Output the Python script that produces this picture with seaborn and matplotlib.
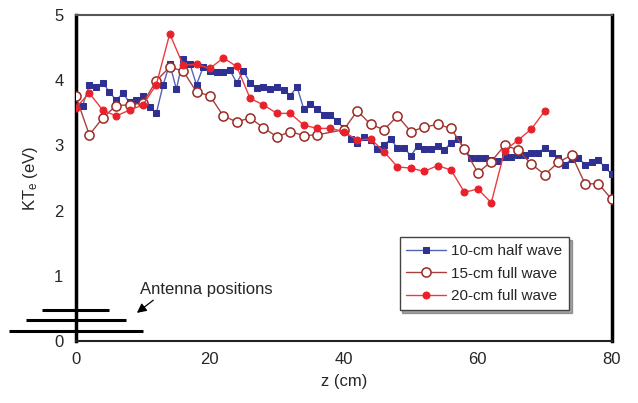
import numpy as np
import pandas as pd
import matplotlib
matplotlib.use("Agg")
import matplotlib.pyplot as plt
import seaborn as sns

# ---- data ----
z_half = list(range(0, 81))
kte_half = [3.61, 3.61, 3.92, 3.89, 3.96, 3.82, 3.69, 3.80, 3.66, 3.69,
            3.76, 3.59, 3.49, 3.92, 4.25, 3.86, 4.33, 4.25, 3.93, 4.20,
            4.14, 4.12, 4.12, 4.15, 3.96, 4.14, 3.96, 3.88, 3.90, 3.87,
            3.90, 3.85, 3.76, 3.90, 3.56, 3.64, 3.56, 3.47, 3.47, 3.37,
            3.26, 3.09, 3.03, 3.13, 3.08, 2.94, 3.01, 3.09, 2.96, 2.96,
            2.84, 2.99, 2.94, 2.94, 2.99, 2.93, 3.04, 3.10, 2.94, 2.81,
            2.81, 2.81, 2.78, 2.76, 2.82, 2.82, 2.85, 2.85, 2.88, 2.88,
            2.96, 2.88, 2.81, 2.70, 2.79, 2.81, 2.70, 2.74, 2.77, 2.66,
            2.56]

z_15 = [0, 2, 4, 6, 8, 10, 12, 14, 16, 18, 20, 22, 24, 26, 28, 30, 32, 34, 36,
        40, 42, 44, 46, 48, 50, 52, 54, 56, 58, 60, 62, 64, 66, 68, 70, 72, 74,
        76, 78, 80]
kte_15 = [3.75, 3.16, 3.42, 3.61, 3.62, 3.65, 3.99, 4.20, 4.14, 3.82, 3.76,
          3.45, 3.36, 3.42, 3.27, 3.13, 3.21, 3.15, 3.16,
          3.24, 3.53, 3.32, 3.24, 3.45, 3.21, 3.28, 3.32, 3.26, 2.94, 2.58,
          2.75, 3.00, 2.93, 2.71, 2.55, 2.74, 2.85, 2.41, 2.41, 2.17]

z_20 = list(range(0, 71, 2))
kte_20 = [3.58, 3.80, 3.54, 3.45, 3.54, 3.62, 3.93, 4.71, 4.23, 4.24, 4.18,
          4.34, 4.21, 3.72, 3.62, 3.49, 3.49, 3.31, 3.26, 3.26, 3.21, 3.08,
          3.10, 2.90, 2.67, 2.65, 2.60, 2.69, 2.62, 2.28, 2.33, 2.12, 2.92,
          3.08, 3.25, 3.53]

series_labels = ["10-cm half wave", "15-cm full wave", "20-cm full wave"]

# antenna extents (cm) and bar heights
antenna_half_len = [5.0, 7.5, 10.0]
antenna_y = [0.48, 0.32, 0.15]

x_ticks_major = [0, 20, 40, 60, 80]
x_ticks_minor = [10, 30, 50, 70]
y_ticks = [0, 1, 2, 3, 4, 5]

# ---- style ----
sns.set_style("white")
plt.rcParams['font.family'] = ['Liberation Sans', 'DejaVu Sans']
plt.rcParams['mathtext.fontset'] = 'custom'
plt.rcParams['mathtext.rm'] = 'Liberation Sans'
plt.rcParams['mathtext.it'] = 'Liberation Sans'

fig = plt.figure(figsize=(6.38, 4.03), dpi=100)
ax = fig.add_axes([0.119, 0.154, 0.840, 0.809])

df_half = pd.DataFrame({"z": z_half, "kte": kte_half})
df_15 = pd.DataFrame({"z": z_15, "kte": kte_15})
df_20 = pd.DataFrame({"z": z_20, "kte": kte_20})

sns.lineplot(data=df_half, x="z", y="kte", ax=ax, color="#5563b5", lw=1.0,
             marker="s", markersize=4.8, markerfacecolor="#2e3192",
             markeredgecolor="#2e3192", label=series_labels[0], zorder=3)
sns.lineplot(data=df_15, x="z", y="kte", ax=ax, color="#a8403c", lw=1.0,
             marker="o", markersize=6.6, markerfacecolor="white",
             markeredgecolor="#9a2a24", markeredgewidth=1.1,
             label=series_labels[1], zorder=4)
sns.lineplot(data=df_20, x="z", y="kte", ax=ax, color="#ee3a3f", lw=1.0,
             marker="o", markersize=5.0, markerfacecolor="#e8212a",
             markeredgecolor="#e8212a", label=series_labels[2], zorder=5)

# antenna bars
for hl, yy in zip(antenna_half_len, antenna_y):
    ax.plot([-hl, hl], [yy, yy], color="black", lw=2.2, clip_on=False,
            solid_capstyle="butt", zorder=6)

ax.annotate("Antenna positions", xy=(9.1, 0.43), xytext=(9.6, 0.79),
            fontsize=12, va="center", ha="left",
            arrowprops=dict(arrowstyle="-|>", color="black", lw=0.9,
                            mutation_scale=14, shrinkA=0, shrinkB=0,
                            relpos=(0.13, 0.0)))

ax.set_xlim(0, 80)
ax.set_ylim(0, 5)
ax.set_xticks(x_ticks_major)
ax.set_xticks(x_ticks_minor, minor=True)
ax.set_yticks(y_ticks)
ax.tick_params(axis="both", which="both", direction="in", length=5,
               width=1.2, labelsize=12, color="black")
ax.tick_params(axis="x", pad=8)
ax.tick_params(axis="y", pad=9)

ax.set_xlabel("z (cm)", fontsize=12, labelpad=5)
ax.set_ylabel(r"KT$_\mathrm{e}$ (eV)", fontsize=12, labelpad=10)

for side, lw, col in [("left", 2.5, "black"), ("right", 2.5, "black"),
                      ("top", 1.5, "#555555"), ("bottom", 1.5, "#222222")]:
    ax.spines[side].set_linewidth(lw)
    ax.spines[side].set_color(col)
    ax.spines[side].set_visible(True)

leg = ax.legend(loc="lower left", bbox_to_anchor=(0.604, 0.095),
                borderaxespad=0, fontsize=11, frameon=True, shadow=True,
                fancybox=False, handlelength=2.6, handletextpad=0.3,
                labelspacing=0.55, borderpad=0.45)
leg.get_frame().set_edgecolor("#444444")
leg.get_frame().set_linewidth(1.0)

fig.savefig("out.png", dpi=100)
